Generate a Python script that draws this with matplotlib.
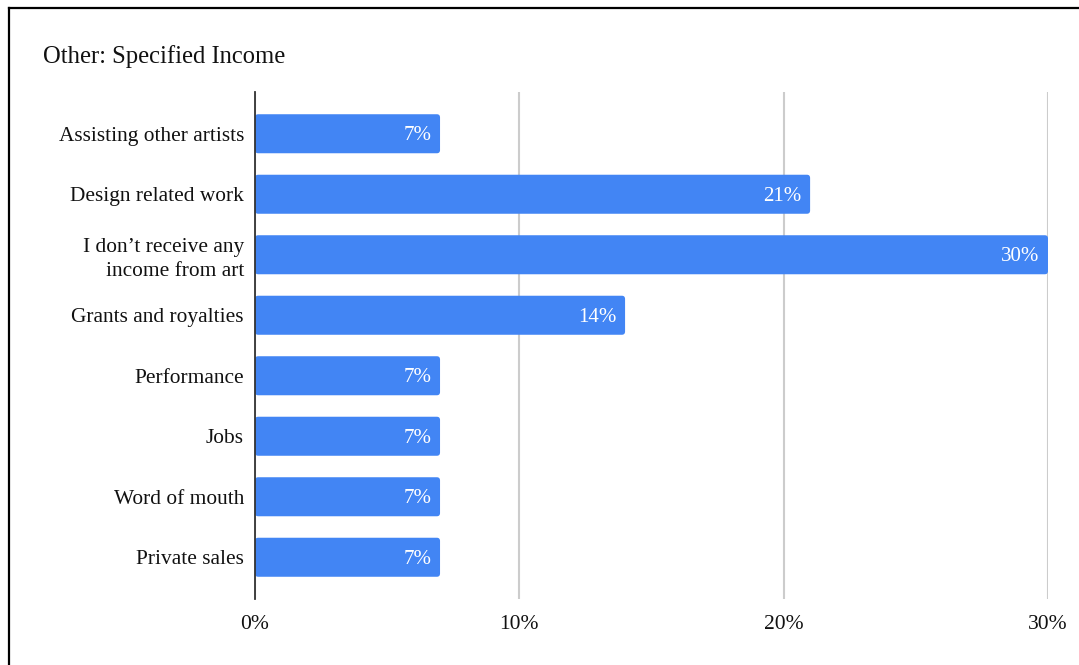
import matplotlib
matplotlib.use("Agg")
import matplotlib.pyplot as plt
from matplotlib.lines import Line2D
from matplotlib.patches import FancyBboxPatch
from matplotlib.ticker import FuncFormatter

# Income sources and share of respondents (%)
categories = [
    "Assisting other artists",
    "Design related work",
    "I don\u2019t receive any\nincome from art",
    "Grants and royalties",
    "Performance",
    "Jobs",
    "Word of mouth",
    "Private sales",
]
shares = [7, 21, 30, 14, 7, 7, 7, 7]
x_ticks = [0, 10, 20, 30]

plt.rcParams["font.family"] = ["Liberation Serif", "DejaVu Serif"]

fig = plt.figure(figsize=(10.79, 6.65), dpi=100)
ax = fig.add_axes([255 / 1079, 66 / 665, 793 / 1079, 507 / 665])

blue = "#4285f4"
bar_h = 0.645
positions = list(range(len(categories)))
bars = ax.barh(positions, shares, height=bar_h, color=blue, zorder=3)

# swap plain rectangles for slightly rounded ones
for b in bars:
    x, y = b.get_x(), b.get_y()
    w, h = b.get_width(), b.get_height()
    b.set_visible(False)
    rb = FancyBboxPatch((x, y), w, h,
                        boxstyle="round,pad=0,rounding_size=0.12",
                        mutation_aspect=0.45,
                        facecolor=blue, edgecolor="none", zorder=3)
    ax.add_patch(rb)

for pos, val in zip(positions, shares):
    ax.text(val - 0.33, pos + 0.03, f"{val}%", color="white", fontsize=15,
            ha="right", va="center", zorder=4)

ax.set_xlim(0, 30)
ax.set_ylim(len(categories) - 1 + 0.69, -0.69)
ax.set_yticks(positions)
ax.set_yticklabels(categories, fontsize=15.4, color="#111111",
                   linespacing=1.35)
ax.set_xticks(x_ticks)
ax.xaxis.set_major_formatter(FuncFormatter(lambda v, _: f"{v:.0f}%"))
ax.tick_params(axis="x", length=0, pad=11.5, labelsize=15.5, labelcolor="#111111")
ax.tick_params(axis="y", length=0, pad=8)

ax.grid(axis="x", color="#cccccc", linewidth=1.5, zorder=0)
for side in ["top", "right", "bottom"]:
    ax.spines[side].set_visible(False)
ax.spines["left"].set_color("#333333")
ax.spines["left"].set_linewidth(1.3)
ax.spines["left"].set_zorder(5)

fig.text(43 / 1079, 1 - 57 / 665, "Other: Specified Income", fontsize=17.7,
         ha="left", va="center", color="#111111")

# frame lines along the left and top edge
fig.add_artist(Line2D([9 / 1079, 9 / 1079], [0, 1 - 8 / 665],
                      color="black", linewidth=1.6))
fig.add_artist(Line2D([9 / 1079, 1], [1 - 8 / 665, 1 - 8 / 665],
                      color="black", linewidth=1.6))

fig.savefig("out.png", dpi=100)
